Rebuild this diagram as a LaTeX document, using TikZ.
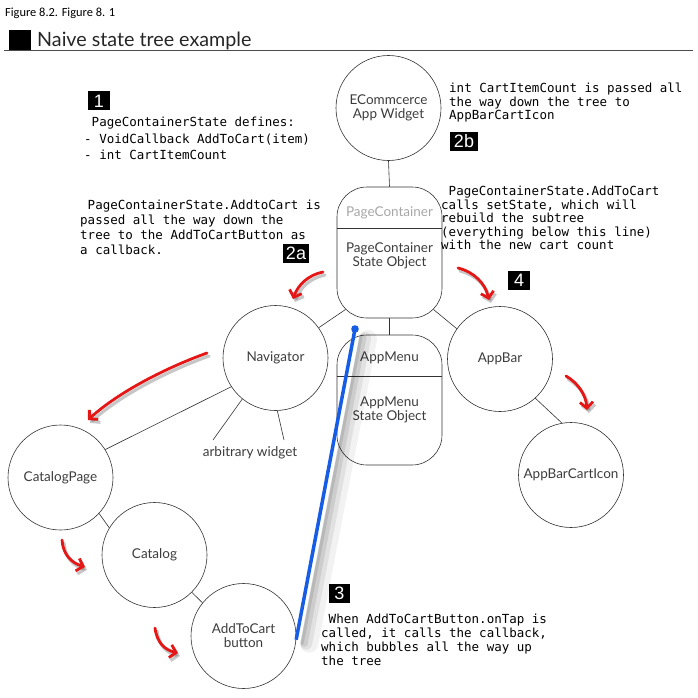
\documentclass[tikz,border=0pt]{standalone}
\usepackage{fontspec}
\setmainfont{Lato}
\newfontfamily\lbl{Lato}
\newfontfamily\capfont{Carlito}
\newfontfamily\monofont{DejaVu Sans Mono}
\newfontfamily\badgefont{Liberation Sans}
\usetikzlibrary{arrows.meta,calc}
\definecolor{redarr}{RGB}{228,22,22}
\definecolor{bluel}{RGB}{22,92,228}
\definecolor{lblgray}{RGB}{60,60,60}
\definecolor{edgegray}{RGB}{50,50,50}
\tikzset{
  circ/.style={circle,draw=edgegray,line width=0.6pt,minimum size=105pt,inner sep=0pt,align=center,font=\lbl\fontsize{13.5}{14}\selectfont,text=lblgray},
  statebox/.style={rectangle,draw=edgegray,line width=0.6pt,rounded corners=30pt,minimum width=105pt,inner sep=0pt},
  lbltext/.style={align=center,font=\lbl\fontsize{13.5}{14}\selectfont,text=lblgray,inner sep=0pt},
  conn/.style={draw=edgegray,line width=0.6pt},
  badge/.style={fill=black,text=white,font=\badgefont\fontsize{18}{18}\selectfont,inner sep=0pt,minimum height=19pt},
  note/.style={align=left,anchor=north west,inner sep=0pt,text=black},
  redarrow/.style={draw=redarr,line width=2.8pt,line cap=round,-{Straight Barb[length=6pt,width=13pt]}},
  redshadow/.style={draw=black,opacity=0.22,line width=3.2pt,line cap=round,-{Straight Barb[length=6pt,width=13pt]}}
}
\begin{document}
\begin{tikzpicture}[x=1pt,y=-1pt]
\useasboundingbox (0,0) rectangle (697,698);
% caption and title
\node[anchor=base west,inner sep=0pt,font=\capfont\fontsize{12.4}{14}\selectfont] (cap) at (5,17) {Figure 8.2. Figure 8. 1};
\fill[black] (9,30) rectangle (31,50);
\node[anchor=base west,inner sep=0pt,font=\lbl\fontsize{19.7}{22}\selectfont,text=black!85] (title) at (37,47) {Naive state tree example};
\draw[black!70,line width=1.2pt] (4,50.5) -- (693,50.5);

% nodes
\node[circ] (ecom) at (388.5,108) {ECommcerce\\App Widget};
\node[statebox,minimum height=131pt] (pc) at (389.5,252.5) {};
\draw[conn] ($(pc.north west)+(0,42)$) -- ($(pc.north east)+(0,42)$);
\node[lbltext,text=black!35] (pct) at (389.5,213) {PageContainer};
\node[lbltext] (pcs) at (389.5,256) {PageContainer\\State Object};

\node[statebox,minimum height=130pt] (am) at (389.5,400) {};
\draw[conn] ($(am.north west)+(0,42)$) -- ($(am.north east)+(0,42)$);
\node[lbltext] (amt) at (389.5,358) {AppMenu};
\node[lbltext] (ams) at (389.5,410) {AppMenu\\State Object};

\node[circ] (nav) at (275.5,358) {Navigator};
\node[circ] (appbar) at (500,359) {AppBar};
\node[circ] (cart) at (571,475) {AppBarCartIcon};
\node[circ] (catpage) at (60.5,477.5) {CatalogPage};
\node[circ] (catalog) at (154.5,555) {Catalog};
\node[circ] (addcart) at (243.5,636) {AddToCart\\button};
\node[lbltext] (arb) at (250,453) {arbitrary widget};
\coordinate (arb1) at (213,440);
\coordinate (arb2) at (284,440);

% connectors
\draw[conn] (ecom.south) -- (pc.north);
\draw[conn] (pc.south) -- (am.north);
\coordinate (pcsw) at ($(pc.south west)+(30,-30)+(-21.2,21.2)$);
\coordinate (pcse) at ($(pc.south east)+(-30,-30)+(21.2,21.2)$);
\draw[conn] (pcsw) -- (nav.35);
\draw[conn] (pcse) -- (appbar.145);
\draw[conn] (appbar.-48) -- (cart.100);
\draw[conn] (nav.213) -- (catpage.32);
\draw[conn] (nav.231) -- (arb1);
\draw[conn] (nav.272) -- (arb2);
\draw[conn] (catpage.-43) -- (catalog.149);
\draw[conn] (catalog.-45) -- (addcart.141);

% badges
\node[badge,minimum width=22pt] (b1) at (99,101) {1};
\node[badge,minimum width=26pt] (b2a) at (296,253) {2a};
\node[badge,minimum width=28pt] (b2b) at (464,141) {2b};
\node[badge,minimum width=22pt] (b4) at (519,280.5) {4};
\node[badge,minimum width=21pt] (b3) at (339.5,593) {3};

% notes
\node[note,font=\monofont\fontsize{12.5}{16.5}\selectfont] (t1) at (84,117) {\ PageContainerState defines:\\- VoidCallback AddToCart(item)\\- int CartItemCount};
\node[note,font=\monofont\fontsize{12.5}{15}\selectfont] (t2a) at (80,200) {\ PageContainerState.AddtoCart is\\passed all the way down the\\tree to the AddToCartButton as\\a callback.};
\node[note,font=\monofont\fontsize{12.5}{13.5}\selectfont] (t2b) at (449,83) {int CartItemCount is passed all\\the way down the tree to\\AppBarCartIcon};
\node[note,font=\monofont\fontsize{12.5}{13.5}\selectfont] (t4) at (441,186) {\ PageContainerState.AddToCart\\calls setState, which will\\rebuild the subtree\\(everything below this line)\\with the new cart count};
\node[note,font=\monofont\fontsize{12.5}{14}\selectfont] (t3) at (321,614) {\ When AddToCartButton.onTap is\\called, it calls the callback,\\which bubbles all the way up\\the tree};

% blue callback line with shadow
\coordinate (bluetop) at (355,329);
\draw[black,opacity=0.05,line width=18pt,line cap=round] ($(addcart.-4)+(13,4)$) -- ($(bluetop)+(13,10)$);
\draw[black,opacity=0.07,line width=12pt,line cap=round] ($(addcart.-4)+(10,4)$) -- ($(bluetop)+(10,9)$);
\draw[black,opacity=0.09,line width=7pt,line cap=round] ($(addcart.-4)+(8,4)$) -- ($(bluetop)+(8,8)$);
\draw[black,opacity=0.10,line width=3pt,line cap=round] ($(addcart.-4)+(6,4)$) -- ($(bluetop)+(6,8)$);
\draw[bluel,line width=3.5pt] (addcart.-4) -- (bluetop);
\fill[bluel] (bluetop) circle (3.8pt);

% red arrows
\foreach \s/\a/\b/\c/\d in {
  redshadow/{(325,275)}/{(310,278)}/{(300,288)}/{(295,302)},
  redarrow/{(323,272)}/{(308,275)}/{(298,285)}/{(293,299)},
  redshadow/{(460,271)}/{(476,275)}/{(487,286)}/{(491,303)},
  redarrow/{(458,268)}/{(474,272)}/{(485,283)}/{(489,300)},
  redshadow/{(209,356)}/{(162,373)}/{(117,398)}/{(90,423)},
  redarrow/{(207,353)}/{(160,370)}/{(115,395)}/{(88,420)},
  redshadow/{(64,543)}/{(65,558)}/{(74,566)}/{(87,570)},
  redarrow/{(62,540)}/{(63,555)}/{(72,563)}/{(85,567)},
  redshadow/{(157,631)}/{(159,646)}/{(167,653)}/{(180,656)},
  redarrow/{(155,628)}/{(157,643)}/{(165,650)}/{(178,653)},
  redshadow/{(568,379)}/{(580,386)}/{(588,398)}/{(589,413)},
  redarrow/{(566,376)}/{(578,383)}/{(586,395)}/{(587,410)}}
  \draw[\s] \a .. controls \b and \c .. \d;
\end{tikzpicture}
\end{document}
